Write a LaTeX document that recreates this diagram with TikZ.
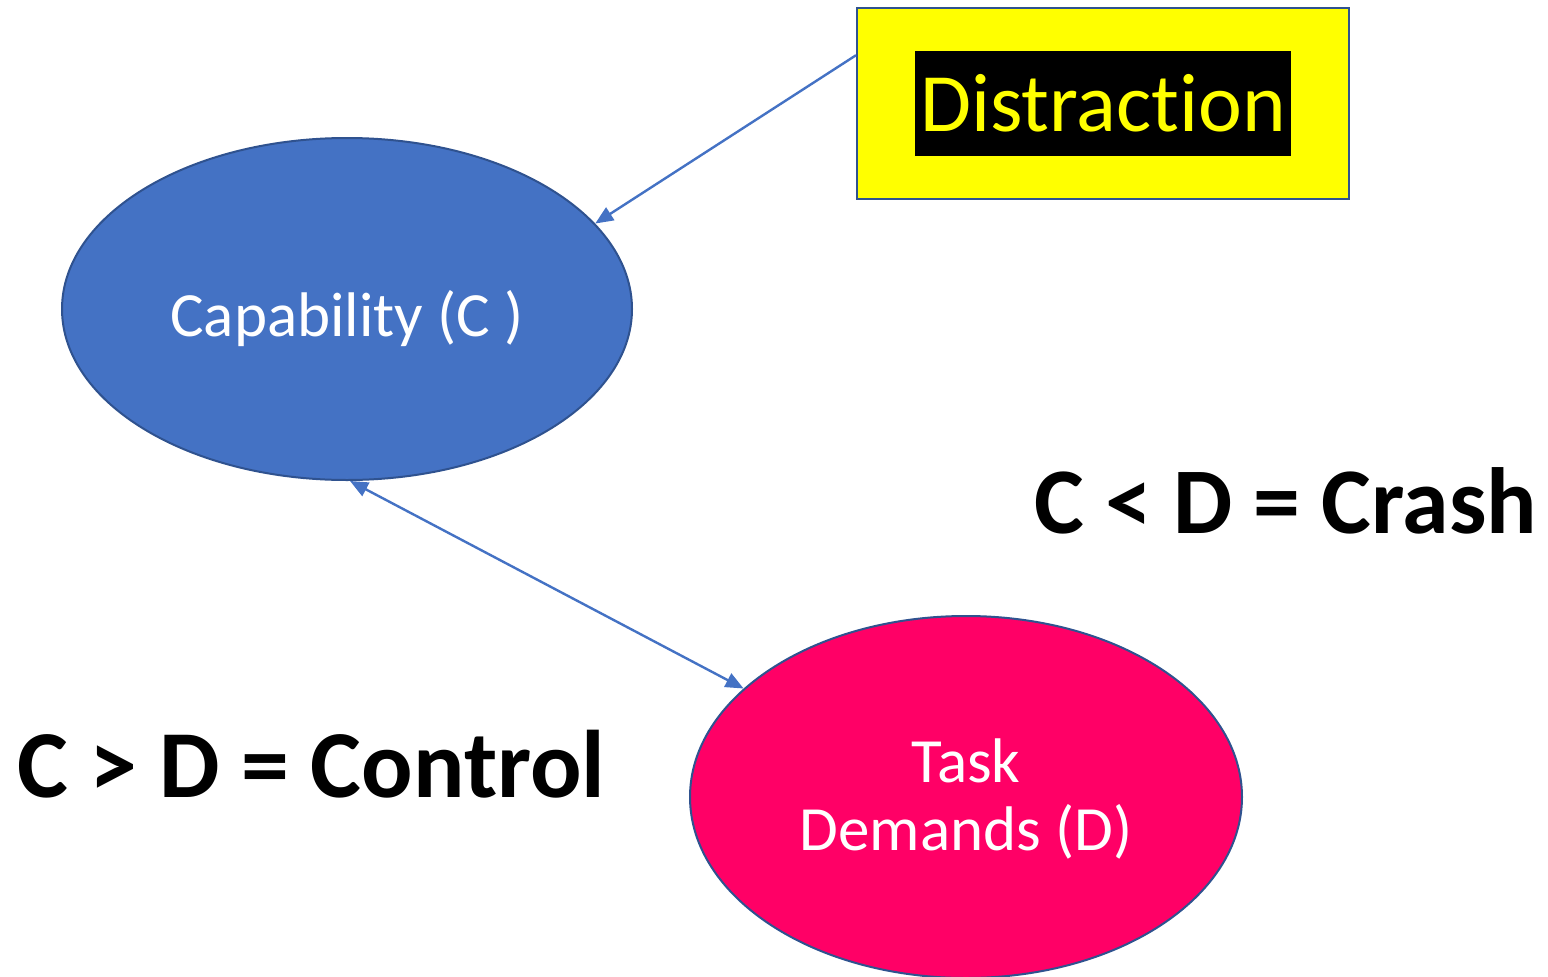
\documentclass[tikz,border=0pt]{standalone}
\usepackage{fontspec}
\setmainfont{Carlito}[Ligatures=NoCommon]
\usetikzlibrary{arrows.meta,shapes.geometric,calc}
\definecolor{capblue}{HTML}{4472C4}
\definecolor{edgeblue}{HTML}{2F528F}
\definecolor{taskpink}{HTML}{FF0066}
\definecolor{boxyellow}{HTML}{FFFF00}
\begin{document}
\begin{tikzpicture}[x=1pt,y=-1pt,
  blob/.style={ellipse, draw=edgeblue, line width=2pt, inner sep=0pt},
  link/.style={draw=capblue, line width=2.4pt, -{Triangle[length=18pt,width=15pt]}},
  twoway/.style={draw=capblue, line width=2.4pt, {Triangle[length=18pt,width=15pt]}-{Triangle[length=18pt,width=15pt]}},
  inlabel/.style={anchor=base, text=white, inner sep=0pt, font=\fontsize{63}{69}\selectfont},
  rule/.style={anchor=base west, text=black, inner sep=0pt}]
\useasboundingbox (0,0) rectangle (1548,977);

% the two quantities being compared
\node[blob, fill=capblue, minimum width=570pt, minimum height=342pt] (cap) at (347,309) {};
\node[blob, fill=taskpink, minimum width=552pt, minimum height=362pt] (task) at (966,797) {};

% distraction box with its highlighted caption
\node[draw=edgeblue, fill=boxyellow, line width=2pt, inner sep=0pt,
      minimum width=492pt, minimum height=191pt] (dist) at (1103,103.5) {};
\node[fill=black, text=boxyellow, inner sep=0pt, minimum width=376pt, minimum height=105pt,
      font=\fontsize{83}{90}\selectfont] (distlabel) at (1103,103.5) {Distraction};

% labels inside the ellipses
\node[inlabel] (caplabel) at (347,336) {Capability (C )};
\node[inlabel] (tasklabel1) at (966,782) {Task};
\node[inlabel] (tasklabel2) at (966,850) {Demands (D)};

% outcome rules
\node[rule, font=\fontsize{94}{100}\selectfont\bfseries] (crash) at (1034,533) {C < D = Crash};
\node[rule, font=\fontsize{96}{100}\selectfont\bfseries] (control) at (17,797) {C > D = Control};

% connectors
\coordinate (distport) at ($(dist.north west)!0.25!(dist.south west)$);
\draw[link] (distport) -- (cap.19);
\draw[twoway] (cap.-89) -- (task.154);
\end{tikzpicture}
\end{document}
